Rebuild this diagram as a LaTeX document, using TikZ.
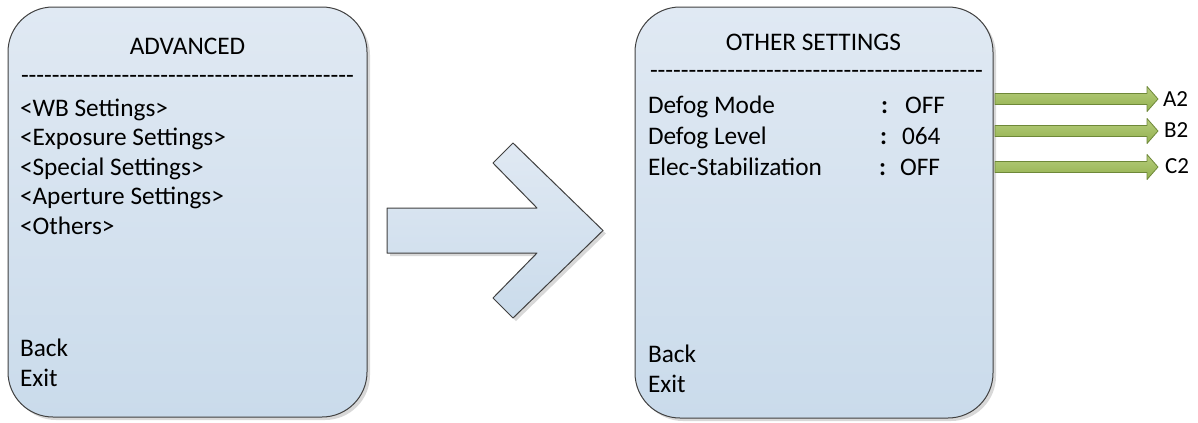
\documentclass[tikz,border=0pt]{standalone}
\usepackage{fontspec}
\setmainfont{Carlito}[Ligatures=TeXOff]
\usetikzlibrary{shadows}

\definecolor{panetop}{RGB}{224,233,243}
\definecolor{panebot}{RGB}{202,219,235}
\definecolor{paneedge}{RGB}{64,64,64}
\definecolor{leaftop}{RGB}{182,204,124}
\definecolor{leafbot}{RGB}{146,177,78}
\definecolor{leafedge}{RGB}{110,136,56}

\tikzset{
  pane/.style={draw=paneedge, line width=1bp, top color=panetop, bottom color=panebot,
    drop shadow={shadow xshift=3bp, shadow yshift=-3bp, fill=black!30, opacity=0.5}},
  leafarrow/.style={draw=leafedge, line width=0.8bp, top color=leaftop, bottom color=leafbot},
  menutext/.style={anchor=base west, inner sep=0pt, outer sep=0pt, font=\fontsize{25.3bp}{30bp}\selectfont},
  menutitle/.style={anchor=base, inner sep=0pt, outer sep=0pt, font=\fontsize{25.3bp}{30bp}\selectfont},
  tagtext/.style={anchor=base west, inner sep=0pt, outer sep=0pt, font=\fontsize{23bp}{27bp}\selectfont}
}

\begin{document}
\begin{tikzpicture}[x=1bp, y=1bp, line cap=round, line join=round]
  \useasboundingbox (0,0) rectangle (1198,-422);
  % left menu
  \path[pane, rounded corners=45bp] (8,-7) rectangle (367,-417);
  \node[menutitle] (advtitle) at (187.5,-54) {ADVANCED};
  \node[menutext] (advrule) at (21,-83.5) {-------------------------------------------};
  \node[menutext] (wb) at (20,-116) {<WB Settings>};
  \node[menutext] (expo) at (20,-145.5) {<Exposure Settings>};
  \node[menutext] (spec) at (20,-175) {<Special Settings>};
  \node[menutext] (aper) at (20,-204.5) {<Aperture Settings>};
  \node[menutext] (others) at (20,-234) {<Others>};
  \node[menutext] (advback) at (20,-356) {Back};
  \node[menutext] (advexit) at (20,-386) {Exit};
  % big arrow
  \path[pane] (387,-208) -- (537,-208) -- (493,-163) -- (513,-143) -- (603,-230.5)
    -- (513,-318) -- (493,-298) -- (537,-253) -- (387,-253) -- cycle;
  % right menu
  \path[pane, rounded corners=45bp] (635,-7) rectangle (993,-418);
  \node[menutitle] (othtitle) at (813.5,-50) {OTHER SETTINGS};
  \node[menutext] (othrule) at (650,-78.5) {-------------------------------------------};
  \node[menutext] (defmode) at (648,-113) {Defog Mode};
  \node[menutext] (defmodesep) at (881,-113) {\bfseries :};
  \node[menutext] (defmodeval) at (905,-113) {OFF};
  \node[menutext] (deflevel) at (648,-144) {Defog Level};
  \node[menutext] (deflevelsep) at (880,-144) {\bfseries :};
  \node[menutext] (deflevelval) at (902,-144) {064};
  \node[menutext] (stab) at (648,-175) {Elec-Stabilization};
  \node[menutext] (stabsep) at (879,-175) {\bfseries :};
  \node[menutext] (stabval) at (900,-175) {OFF};
  \node[menutext] (othback) at (648,-362) {Back};
  \node[menutext] (othexit) at (648,-392) {Exit};
  % outputs
  \coordinate (outa) at (995,-99);
  \coordinate (outb) at (995,-131);
  \coordinate (outc) at (995,-167);
  \path[leafarrow] (outa) ++(0,5.5) -- ++(152,0) -- ++(0,7) -- ++(11,-12.5) -- ++(-11,-12.5) -- ++(0,7) -- ++(-152,0) -- cycle;
  \path[leafarrow] (outb) ++(0,5.5) -- ++(152,0) -- ++(0,7) -- ++(11,-12.5) -- ++(-11,-12.5) -- ++(0,7) -- ++(-152,0) -- cycle;
  \path[leafarrow] (outc) ++(0,5.5) -- ++(152,0) -- ++(0,7) -- ++(11,-12.5) -- ++(-11,-12.5) -- ++(0,7) -- ++(-152,0) -- cycle;
  \node[tagtext] (taga) at (1163,-106) {A2};
  \node[tagtext] (tagb) at (1164,-137) {B2};
  \node[tagtext] (tagc) at (1165,-173) {C2};
\end{tikzpicture}
\end{document}
